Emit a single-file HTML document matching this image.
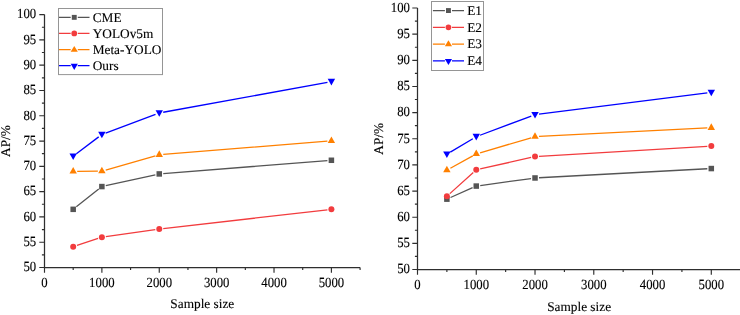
<!DOCTYPE html>
<html><head><meta charset="utf-8"><style>
html,body{margin:0;padding:0;background:#fff;width:740px;height:315px;overflow:hidden}
svg{display:block}
text{font-family:"Liberation Serif", serif;text-rendering:geometricPrecision;stroke:#000;stroke-width:0.12px}
svg{will-change:transform}
</style></head><body>
<svg width="740" height="315" viewBox="0 0 740 315" font-family='"Liberation Serif", serif' font-size="13.3" fill="#000">
<path d="M44.5 14.6V267.5H360.09" fill="none" stroke="#2e2e2e" stroke-width="1.25"/>
<path d="M44.5 267.5h-5.2M44.5 254.85h-2.6M44.5 242.21h-5.2M44.5 229.56h-2.6M44.5 216.92h-5.2M44.5 204.28h-2.6M44.5 191.63h-5.2M44.5 178.99h-2.6M44.5 166.34h-5.2M44.5 153.69h-2.6M44.5 141.05h-5.2M44.5 128.41h-2.6M44.5 115.76h-5.2M44.5 103.12h-2.6M44.5 90.47h-5.2M44.5 77.83h-2.6M44.5 65.18h-5.2M44.5 52.53h-2.6M44.5 39.89h-5.2M44.5 27.25h-2.6M44.5 14.6h-5.2M44.5 267.5v5.3M73.19 267.5v2.6M101.88 267.5v5.3M130.57 267.5v2.6M159.26 267.5v5.3M187.95 267.5v2.6M216.64 267.5v5.3M245.33 267.5v2.6M274.02 267.5v5.3M302.71 267.5v2.6M331.4 267.5v5.3M360.09 267.5v2.6" fill="none" stroke="#2e2e2e" stroke-width="1.15"/>
<text transform="translate(36.2 271.3) scale(0.96,1.05)" text-anchor="end">50</text>
<text transform="translate(36.2 246.01) scale(0.96,1.05)" text-anchor="end">55</text>
<text transform="translate(36.2 220.72) scale(0.96,1.05)" text-anchor="end">60</text>
<text transform="translate(36.2 195.43) scale(0.96,1.05)" text-anchor="end">65</text>
<text transform="translate(36.2 170.14) scale(0.96,1.05)" text-anchor="end">70</text>
<text transform="translate(36.2 144.85) scale(0.96,1.05)" text-anchor="end">75</text>
<text transform="translate(36.2 119.56) scale(0.96,1.05)" text-anchor="end">80</text>
<text transform="translate(36.2 94.27) scale(0.96,1.05)" text-anchor="end">85</text>
<text transform="translate(36.2 68.98) scale(0.96,1.05)" text-anchor="end">90</text>
<text transform="translate(36.2 43.69) scale(0.96,1.05)" text-anchor="end">95</text>
<text transform="translate(36.2 18.4) scale(0.96,1.05)" text-anchor="end">100</text>
<text transform="translate(44.5 286.7) scale(0.96,1.05)" text-anchor="middle">0</text>
<text transform="translate(101.88 286.7) scale(0.96,1.05)" text-anchor="middle">1000</text>
<text transform="translate(159.26 286.7) scale(0.96,1.05)" text-anchor="middle">2000</text>
<text transform="translate(216.64 286.7) scale(0.96,1.05)" text-anchor="middle">3000</text>
<text transform="translate(274.02 286.7) scale(0.96,1.05)" text-anchor="middle">4000</text>
<text transform="translate(331.4 286.7) scale(0.96,1.05)" text-anchor="middle">5000</text>
<text transform="translate(202.29 307.7) scale(1,1.0)" text-anchor="middle">Sample size</text>
<text transform="translate(10.4 141.05) rotate(-90) scale(1,1.0)" text-anchor="middle">AP/%</text>
<path d="M76.32 206.85L98.75 189.06M105.79 185.71L155.35 174.79M163.25 173.61L327.41 160.59" fill="none" stroke="#555555" stroke-width="1.3"/>
<rect x="70.44" y="206.58" width="5.5" height="5.5" fill="#555555"/>
<rect x="99.13" y="183.82" width="5.5" height="5.5" fill="#555555"/>
<rect x="156.51" y="171.18" width="5.5" height="5.5" fill="#555555"/>
<rect x="328.65" y="157.52" width="5.5" height="5.5" fill="#555555"/>
<path d="M76.98 245.49L98.09 238.42M105.84 236.59L155.3 229.62M163.23 228.6L327.43 209.79" fill="none" stroke="#f23c3e" stroke-width="1.3"/>
<circle cx="73.19" cy="246.76" r="3" fill="#f23c3e"/>
<circle cx="101.88" cy="237.15" r="3" fill="#f23c3e"/>
<circle cx="159.26" cy="229.06" r="3" fill="#f23c3e"/>
<circle cx="331.4" cy="209.33" r="3" fill="#f23c3e"/>
<path d="M77.19 171.36L97.88 171.18M105.73 170.04L155.41 155.81M163.25 154.38L327.41 141.12" fill="none" stroke="#ff8000" stroke-width="1.3"/>
<path d="M69.49 173.6L76.89 173.6L73.19 167Z" fill="#ff8000"/>
<path d="M98.18 173.35L105.58 173.35L101.88 166.75Z" fill="#ff8000"/>
<path d="M155.56 156.91L162.96 156.91L159.26 150.31Z" fill="#ff8000"/>
<path d="M327.7 143L335.1 143L331.4 136.4Z" fill="#ff8000"/>
<path d="M76.38 153.81L98.69 136.89M105.63 133.07L155.51 114.38M163.2 112.26L327.46 82.34" fill="none" stroke="#0000ff" stroke-width="1.3"/>
<path d="M69.49 153.42L76.89 153.42L73.19 160.02Z" fill="#0000ff"/>
<path d="M98.18 131.67L105.58 131.67L101.88 138.27Z" fill="#0000ff"/>
<path d="M155.56 110.18L162.96 110.18L159.26 116.78Z" fill="#0000ff"/>
<path d="M327.7 78.82L335.1 78.82L331.4 85.42Z" fill="#0000ff"/>
<rect x="58.5" y="8.5" width="104" height="66.1" fill="#fff" stroke="#959595" stroke-width="1"/>
<path d="M59 17.35H70.7M77.8 17.35H89.5" stroke="#555555" stroke-width="1.3"/>
<rect x="71.8" y="14.9" width="4.9" height="4.9" fill="#555555"/>
<text transform="translate(92.7 21.75) scale(1,1.0)">CME</text>
<path d="M59 33.47H70.7M77.8 33.47H89.5" stroke="#f23c3e" stroke-width="1.3"/>
<circle cx="74.25" cy="33.47" r="2.85" fill="#f23c3e"/>
<text transform="translate(92.7 37.87) scale(1,1.0)">YOLOv5m</text>
<path d="M59 49.59H70.7M77.8 49.59H89.5" stroke="#ff8000" stroke-width="1.3"/>
<path d="M70.65 51.79L77.85 51.79L74.25 45.89Z" fill="#ff8000"/>
<text transform="translate(92.7 53.99) scale(1,1.0)">Meta-YOLO</text>
<path d="M59 65.71H70.7M77.8 65.71H89.5" stroke="#0000ff" stroke-width="1.3"/>
<path d="M70.65 63.81L77.85 63.81L74.25 70.01Z" fill="#0000ff"/>
<text transform="translate(92.7 70.11) scale(1,1.0)">Ours</text>
<path d="M417.5 8V269.5H740.68" fill="none" stroke="#2e2e2e" stroke-width="1.25"/>
<path d="M417.5 269.5h-5.2M417.5 256.43h-2.6M417.5 243.35h-5.2M417.5 230.28h-2.6M417.5 217.2h-5.2M417.5 204.12h-2.6M417.5 191.05h-5.2M417.5 177.97h-2.6M417.5 164.9h-5.2M417.5 151.82h-2.6M417.5 138.75h-5.2M417.5 125.67h-2.6M417.5 112.6h-5.2M417.5 99.52h-2.6M417.5 86.45h-5.2M417.5 73.37h-2.6M417.5 60.3h-5.2M417.5 47.22h-2.6M417.5 34.15h-5.2M417.5 21.07h-2.6M417.5 8h-5.2M417.5 269.5v5.3M446.88 269.5v2.6M476.26 269.5v5.3M505.64 269.5v2.6M535.02 269.5v5.3M564.4 269.5v2.6M593.78 269.5v5.3M623.16 269.5v2.6M652.54 269.5v5.3M681.92 269.5v2.6M711.3 269.5v5.3M740.68 269.5v2.6" fill="none" stroke="#2e2e2e" stroke-width="1.15"/>
<text transform="translate(409.9 273.3) scale(0.96,1.05)" text-anchor="end">50</text>
<text transform="translate(409.9 247.15) scale(0.96,1.05)" text-anchor="end">55</text>
<text transform="translate(409.9 221) scale(0.96,1.05)" text-anchor="end">60</text>
<text transform="translate(409.9 194.85) scale(0.96,1.05)" text-anchor="end">65</text>
<text transform="translate(409.9 168.7) scale(0.96,1.05)" text-anchor="end">70</text>
<text transform="translate(409.9 142.55) scale(0.96,1.05)" text-anchor="end">75</text>
<text transform="translate(409.9 116.4) scale(0.96,1.05)" text-anchor="end">80</text>
<text transform="translate(409.9 90.25) scale(0.96,1.05)" text-anchor="end">85</text>
<text transform="translate(409.9 64.1) scale(0.96,1.05)" text-anchor="end">90</text>
<text transform="translate(409.9 37.95) scale(0.96,1.05)" text-anchor="end">95</text>
<text transform="translate(409.9 11.8) scale(0.96,1.05)" text-anchor="end">100</text>
<text transform="translate(417.5 288.6) scale(0.96,1.05)" text-anchor="middle">0</text>
<text transform="translate(476.26 288.6) scale(0.96,1.05)" text-anchor="middle">1000</text>
<text transform="translate(535.02 288.6) scale(0.96,1.05)" text-anchor="middle">2000</text>
<text transform="translate(593.78 288.6) scale(0.96,1.05)" text-anchor="middle">3000</text>
<text transform="translate(652.54 288.6) scale(0.96,1.05)" text-anchor="middle">4000</text>
<text transform="translate(711.3 288.6) scale(0.96,1.05)" text-anchor="middle">5000</text>
<text transform="translate(579.09 310.8) scale(1,1.0)" text-anchor="middle">Sample size</text>
<text transform="translate(383 138.75) rotate(-90) scale(1,1.0)" text-anchor="middle">AP/%</text>
<path d="M450.53 197.53L472.61 187.71M480.22 185.53L531.06 178.52M539.01 177.76L707.31 168.77" fill="none" stroke="#555555" stroke-width="1.3"/>
<rect x="444.13" y="196.41" width="5.5" height="5.5" fill="#555555"/>
<rect x="473.51" y="183.33" width="5.5" height="5.5" fill="#555555"/>
<rect x="532.27" y="175.22" width="5.5" height="5.5" fill="#555555"/>
<rect x="708.55" y="165.81" width="5.5" height="5.5" fill="#555555"/>
<path d="M449.85 193.61L473.29 172.54M480.16 168.98L531.12 157.42M539.01 156.3L707.31 146.31" fill="none" stroke="#f23c3e" stroke-width="1.3"/>
<circle cx="446.88" cy="196.28" r="3" fill="#f23c3e"/>
<circle cx="476.26" cy="169.87" r="3" fill="#f23c3e"/>
<circle cx="535.02" cy="156.53" r="3" fill="#f23c3e"/>
<circle cx="711.3" cy="146.07" r="3" fill="#f23c3e"/>
<path d="M450.38 168.2L472.76 155.85M480.1 152.79L531.18 137.79M539.01 136.46L707.31 127.97" fill="none" stroke="#ff8000" stroke-width="1.3"/>
<path d="M443.18 172.33L450.58 172.33L446.88 165.73Z" fill="#ff8000"/>
<path d="M472.56 156.12L479.96 156.12L476.26 149.52Z" fill="#ff8000"/>
<path d="M531.32 138.86L538.72 138.86L535.02 132.26Z" fill="#ff8000"/>
<path d="M707.6 129.97L715 129.97L711.3 123.37Z" fill="#ff8000"/>
<path d="M450.32 152.13L472.82 138.71M480.01 135.26L531.27 116.09M538.99 114.19L707.33 92.96" fill="none" stroke="#0000ff" stroke-width="1.3"/>
<path d="M443.18 151.38L450.58 151.38L446.88 157.98Z" fill="#0000ff"/>
<path d="M472.56 133.86L479.96 133.86L476.26 140.46Z" fill="#0000ff"/>
<path d="M531.32 111.89L538.72 111.89L535.02 118.49Z" fill="#0000ff"/>
<path d="M707.6 89.66L715 89.66L711.3 96.26Z" fill="#0000ff"/>
<rect x="431.5" y="1.5" width="52" height="69" fill="#fff" stroke="#959595" stroke-width="1"/>
<path d="M432.9 10.55H444.9M452 10.55H464" stroke="#555555" stroke-width="1.3"/>
<rect x="446" y="8.1" width="4.9" height="4.9" fill="#555555"/>
<text transform="translate(467.2 14.95) scale(1,1.0)">E1</text>
<path d="M432.9 27.3H444.9M452 27.3H464" stroke="#f23c3e" stroke-width="1.3"/>
<circle cx="448.45" cy="27.3" r="2.85" fill="#f23c3e"/>
<text transform="translate(467.2 31.7) scale(1,1.0)">E2</text>
<path d="M432.9 44.05H444.9M452 44.05H464" stroke="#ff8000" stroke-width="1.3"/>
<path d="M444.85 46.25L452.05 46.25L448.45 40.35Z" fill="#ff8000"/>
<text transform="translate(467.2 48.45) scale(1,1.0)">E3</text>
<path d="M432.9 60.8H444.9M452 60.8H464" stroke="#0000ff" stroke-width="1.3"/>
<path d="M444.85 58.9L452.05 58.9L448.45 65.1Z" fill="#0000ff"/>
<text transform="translate(467.2 65.2) scale(1,1.0)">E4</text>
</svg>
</body></html>
